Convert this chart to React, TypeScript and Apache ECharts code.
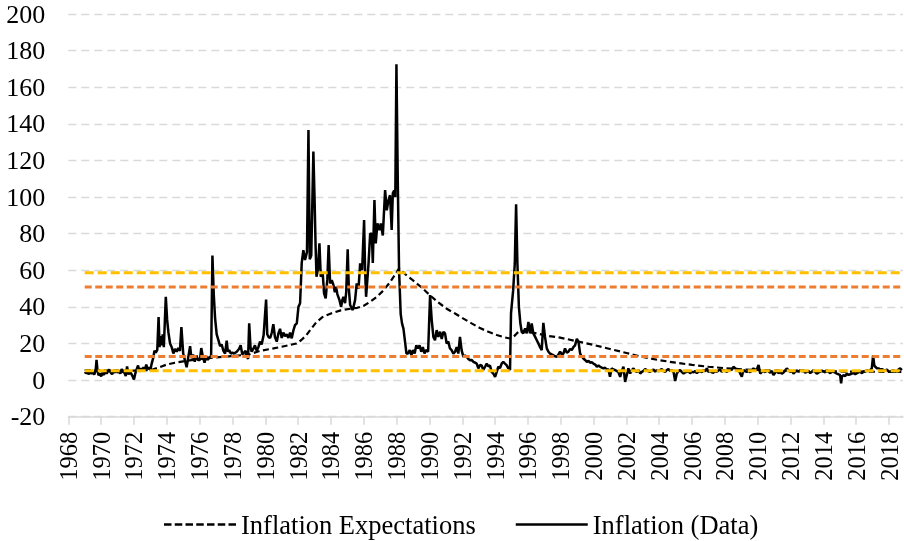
import React, { useEffect, useRef } from 'react';
import * as echarts from 'echarts';

// ---- tick labels ----
const yearTicks = [1968, 1970, 1972, 1974, 1976, 1978, 1980, 1982, 1984, 1986, 1988, 1990, 1992, 1994, 1996, 1998, 2000, 2002, 2004, 2006, 2008, 2010, 2012, 2014, 2016, 2018];

// ---- series names ----
const expName = 'Inflation Expectations';
const dataName = 'Inflation (Data)';

// ---- horizontal reference levels ----
const yellowLevels = [58.6, 5.1];
const orangeLevels = [50.8, 12.9];
const refStart = 1969.0;
const refEnd = 2018.85;

// ---- inflation (data), [year, %] ----
const inflation1969_1977: [number, number][] = [
  [1969.0, 4.5], [1969.08, 3.8], [1969.17, 4.2], [1969.25, 3.2], [1969.33, 4.6], [1969.42, 3.5], [1969.5, 4.4], [1969.58, 3.0], [1969.67, 5.5], [1969.72, 11], [1969.78, 5.0], [1969.85, 2.5], [1969.92, 3.8],
  [1970.0, 2.0], [1970.08, 4.0], [1970.17, 2.8], [1970.25, 5.5], [1970.33, 3.5], [1970.42, 4.8], [1970.5, 5.8], [1970.58, 4.2], [1970.67, 3.2], [1970.75, 5.0], [1970.83, 4.0], [1970.92, 5.5],
  [1971.0, 4.0], [1971.08, 5.2], [1971.17, 3.5], [1971.25, 6.0], [1971.33, 4.5], [1971.42, 4.0], [1971.5, 2.2], [1971.58, 7.5], [1971.67, 3.0], [1971.75, 5.0], [1971.83, 3.5], [1971.92, 2.0],
  [1972.0, 0.3], [1972.08, 3.5], [1972.17, 6.0], [1972.25, 8.0], [1972.33, 4.5], [1972.42, 6.5], [1972.5, 5.0], [1972.58, 7.0], [1972.67, 5.5], [1972.75, 8.5], [1972.83, 6.0], [1972.92, 7.0],
  [1973.0, 5.5], [1973.08, 9.0], [1973.17, 12.0], [1973.25, 16.0], [1973.33, 15.0], [1973.42, 16.5], [1973.5, 34.5], [1973.56, 18], [1973.62, 24], [1973.69, 19], [1973.75, 25], [1973.82, 18], [1973.94, 45.5],
  [1974.02, 33], [1974.1, 26], [1974.2, 20], [1974.3, 18], [1974.4, 14.5], [1974.5, 17], [1974.6, 15.5], [1974.7, 17.5], [1974.8, 16], [1974.89, 29],
  [1975.0, 14.5], [1975.1, 11], [1975.21, 7], [1975.3, 12], [1975.42, 18.5], [1975.5, 12], [1975.6, 14], [1975.7, 10], [1975.8, 13.5], [1975.9, 11],
  [1976.02, 11], [1976.1, 17.5], [1976.2, 12.5], [1976.3, 9.5], [1976.4, 13], [1976.5, 11], [1976.6, 12.5], [1976.7, 13], [1976.78, 68], [1976.86, 47], [1976.94, 34],
  [1977.04, 25], [1977.14, 22], [1977.25, 18.5], [1977.34, 19.5], [1977.45, 16], [1977.55, 14.5], [1977.65, 21.5], [1977.72, 15.5], [1977.8, 16.5], [1977.9, 14.5],
];

const inflation1978_1987: [number, number][] = [
  [1978.0, 15], [1978.1, 14.5], [1978.26, 15.5], [1978.4, 17], [1978.5, 19], [1978.6, 14], [1978.7, 15], [1978.8, 16], [1978.95, 11.5],
  [1979.02, 31], [1979.1, 18], [1979.17, 15.5], [1979.27, 17], [1979.37, 19], [1979.48, 16], [1979.58, 18], [1979.68, 21], [1979.78, 19.5], [1979.9, 24.6],
  [1980.05, 44], [1980.12, 25], [1980.2, 23.5], [1980.3, 23], [1980.4, 26], [1980.49, 30.5], [1980.59, 23.5], [1980.7, 21], [1980.8, 25.5], [1980.9, 28],
  [1981.0, 23], [1981.1, 26], [1981.2, 24], [1981.3, 25], [1981.41, 23], [1981.51, 26], [1981.61, 22.8], [1981.71, 27], [1981.81, 30], [1981.92, 31],
  [1982.02, 40], [1982.12, 42], [1982.22, 64], [1982.32, 71], [1982.42, 65.6], [1982.54, 70], [1982.63, 136.6], [1982.71, 66], [1982.8, 68], [1982.93, 124.8],
  [1983.0, 100], [1983.06, 75], [1983.12, 56.5], [1983.2, 60], [1983.3, 74.7], [1983.38, 56.5], [1983.5, 58.3], [1983.58, 47.4], [1983.68, 44.6], [1983.78, 55], [1983.86, 73.8], [1983.95, 52.8],
  [1984.05, 54.6], [1984.15, 52], [1984.24, 48], [1984.31, 51], [1984.39, 47], [1984.52, 43.7], [1984.62, 40], [1984.7, 44], [1984.76, 45.5], [1984.86, 42], [1984.93, 48],
  [1985.02, 71.4], [1985.09, 50], [1985.17, 41], [1985.25, 39.5], [1985.33, 38.3], [1985.47, 43.7], [1985.57, 52.8], [1985.68, 50], [1985.78, 63.8], [1985.9, 60],
  [1986.02, 87.4], [1986.08, 60], [1986.14, 45.5], [1986.22, 55], [1986.29, 63.8], [1986.39, 80], [1986.49, 80], [1986.55, 64], [1986.65, 98.4], [1986.73, 74.7], [1986.83, 85.6], [1986.96, 82],
  [1987.04, 85.6], [1987.16, 79], [1987.3, 103.8], [1987.4, 92.7], [1987.5, 98], [1987.6, 101], [1987.7, 82], [1987.77, 102], [1987.85, 103.6], [1987.92, 100],
];

const inflation1988_1997: [number, number][] = [
  [1987.99, 172.5], [1988.07, 110], [1988.15, 60], [1988.25, 36], [1988.33, 31], [1988.42, 28], [1988.5, 22], [1988.6, 14.5], [1988.7, 14.5], [1988.8, 16.4], [1988.9, 13.6],
  [1989.0, 16.4], [1989.1, 14.5], [1989.2, 19], [1989.3, 17.3], [1989.4, 19], [1989.5, 15.5], [1989.6, 18], [1989.7, 14.5], [1989.8, 16.4], [1989.92, 15.5],
  [1990.04, 46.4], [1990.14, 32.7], [1990.24, 23.6], [1990.34, 21.8], [1990.44, 27.3], [1990.54, 23.6], [1990.65, 26.4], [1990.75, 22.5], [1990.85, 26.4], [1990.95, 25.5],
  [1991.05, 20], [1991.15, 21], [1991.25, 17.3], [1991.35, 16.4], [1991.46, 14.5], [1991.56, 15.5], [1991.66, 18], [1991.76, 14.5], [1991.86, 23.6], [1991.96, 16.4],
  [1992.07, 12.7], [1992.17, 13.5], [1992.27, 12.7], [1992.37, 11.5], [1992.47, 10.9], [1992.57, 11], [1992.68, 10], [1992.78, 9.5], [1992.88, 9], [1992.98, 6.4],
  [1993.08, 8.2], [1993.18, 8], [1993.28, 5.5], [1993.39, 7.3], [1993.49, 9], [1993.59, 7.5], [1993.69, 8], [1993.79, 4.5], [1993.89, 3.6],
  [1994.0, 1.8], [1994.1, 4.5], [1994.2, 7.3], [1994.3, 6.5], [1994.4, 9], [1994.5, 10], [1994.6, 9], [1994.7, 8.2], [1994.81, 6.4], [1994.91, 5.5], [1994.97, 36.4],
  [1995.1, 49], [1995.2, 63.6], [1995.28, 96], [1995.36, 63.6], [1995.45, 40], [1995.54, 31], [1995.62, 26.4], [1995.72, 25.5], [1995.83, 28.2], [1995.93, 25.5],
  [1996.03, 31.8], [1996.13, 25.5], [1996.23, 31], [1996.33, 25.5], [1996.44, 23.6], [1996.54, 21.8], [1996.64, 20], [1996.74, 18], [1996.84, 16.4], [1996.94, 31.3],
  [1997.04, 23.6], [1997.15, 17.3], [1997.25, 15.5], [1997.35, 14.5], [1997.45, 14], [1997.55, 13.6], [1997.65, 13], [1997.76, 12.7], [1997.86, 14],
];

const inflation1998_2018: [number, number][] = [
  [1997.96, 15.5], [1998.06, 14], [1998.16, 14.5], [1998.26, 17.3], [1998.37, 15], [1998.47, 15.5], [1998.57, 17], [1998.67, 16.4], [1998.77, 18], [1998.87, 19], [1998.98, 22.5],
  [1999.08, 21], [1999.18, 14.5], [1999.28, 13], [1999.38, 11.8], [1999.48, 11], [1999.59, 10], [1999.69, 10.5], [1999.79, 9.5], [1999.89, 9.8], [1999.99, 9],
  [2000.1, 8.5], [2000.2, 7.3], [2000.3, 8], [2000.4, 7.3], [2000.5, 6.8], [2000.6, 6.4], [2000.7, 6.8], [2000.8, 5.5], [2000.9, 6],
  [2001.0, 1.8], [2001.1, 6.4], [2001.2, 5.8], [2001.3, 5.5], [2001.4, 5], [2001.5, 4.5], [2001.62, 1.8], [2001.72, 5], [2001.82, 7.3], [2001.92, -1],
  [2002.02, 2.7], [2002.12, 6.4], [2002.23, 3.6], [2002.33, 5.5], [2002.43, 6.4], [2002.53, 5], [2002.63, 4.5], [2002.74, 5.5], [2002.84, 3.6], [2002.94, 4.5],
  [2003.04, 5], [2003.14, 6], [2003.24, 5.5], [2003.34, 4.8], [2003.44, 4.5], [2003.54, 5.2], [2003.65, 5.8], [2003.75, 4.6], [2003.85, 5.5], [2003.95, 4.8],
  [2004.05, 5.5], [2004.15, 6], [2004.26, 5], [2004.36, 4.5], [2004.46, 5.5], [2004.56, 6], [2004.66, 5], [2004.77, 5.5], [2004.87, 4.5], [2004.97, -0.5],
  [2005.07, 3.6], [2005.17, 4.8], [2005.27, 5.5], [2005.37, 4.5], [2005.48, 3.6], [2005.58, 4.2], [2005.68, 4.5], [2005.78, 5], [2005.88, 3.8], [2005.99, 4.5],
  [2006.09, 4.2], [2006.19, 5], [2006.29, 3.8], [2006.39, 4.5], [2006.49, 5], [2006.6, 4.2], [2006.7, 5.5], [2006.8, 4.8], [2006.9, 6.4],
  [2007.0, 4.5], [2007.1, 5], [2007.2, 4.2], [2007.3, 4], [2007.4, 5], [2007.5, 4.5], [2007.61, 5.2], [2007.71, 5.8], [2007.81, 4.5], [2007.91, 5.5],
  [2008.01, 5], [2008.12, 4.5], [2008.22, 5.5], [2008.32, 6], [2008.42, 5.5], [2008.52, 7.3], [2008.62, 6.5], [2008.73, 5.5], [2008.83, 6], [2008.93, 3.6],
  [2009.03, 1.8], [2009.13, 5.5], [2009.24, 4.8], [2009.34, 4.5], [2009.44, 5], [2009.54, 4.2], [2009.64, 5.5], [2009.74, 6.4], [2009.84, 5.5], [2009.95, 6],
  [2010.05, 8.2], [2010.15, 3.6], [2010.25, 4.5], [2010.35, 5], [2010.45, 4.2], [2010.55, 5.5], [2010.65, 4.8], [2010.76, 4], [2010.86, 5], [2010.96, 2.7],
  [2011.06, 4], [2011.16, 5.5], [2011.26, 3.8], [2011.37, 4.5], [2011.47, 3.5], [2011.57, 4.2], [2011.67, 5.2], [2011.77, 6.4], [2011.87, 5.5], [2011.98, 4.5],
  [2012.08, 5], [2012.18, 3.6], [2012.28, 4.5], [2012.38, 5.2], [2012.49, 4.5], [2012.59, 5.5], [2012.69, 4.8], [2012.79, 5.5], [2012.89, 4], [2012.99, 4.5],
  [2013.1, 5], [2013.2, 3.8], [2013.3, 4.5], [2013.4, 5.5], [2013.5, 4.5], [2013.6, 3.5], [2013.71, 4.2], [2013.8, 4.5], [2013.91, 5.2],
  [2014.01, 4.8], [2014.11, 4.2], [2014.21, 5.5], [2014.31, 4.5], [2014.42, 3.8], [2014.52, 4.5], [2014.62, 4.5], [2014.72, 4], [2014.82, 3.5], [2014.92, 3.2],
  [2015.02, 2.7], [2015.08, -1.8], [2015.13, 2], [2015.23, 2.7], [2015.33, 2.2], [2015.43, 3.6], [2015.53, 2.8], [2015.64, 3.2], [2015.74, 3.5], [2015.84, 4], [2015.94, 3.2],
  [2016.04, 3.8], [2016.14, 4.2], [2016.24, 4.5], [2016.35, 3.8], [2016.45, 4.8], [2016.55, 4.5], [2016.65, 5.5], [2016.75, 4.8], [2016.85, 5.5], [2016.95, 6.4],
  [2017.03, 13.5], [2017.1, 8], [2017.16, 7.3], [2017.26, 6.5], [2017.36, 6.4], [2017.46, 5.8], [2017.56, 6], [2017.66, 5.5], [2017.77, 5.2], [2017.87, 5.8], [2017.97, 4.8],
  [2018.07, 4.5], [2018.17, 5], [2018.27, 5.5], [2018.37, 4.5], [2018.47, 4.8], [2018.57, 5.8], [2018.68, 6.4], [2018.78, 5.5],
];

// ---- inflation expectations, [year, %] ----
const expectations: [number, number][] = [
  [1969.0, 5.5], [1970.0, 5.3], [1971.0, 5.2], [1972.0, 5.2], [1973.0, 5.4], [1973.5, 6.8], [1974.0, 8.5], [1974.5, 9.5], [1975.0, 10.2], [1975.5, 10.9],
  [1976.0, 11.5], [1977.0, 12.4], [1978.0, 13.1], [1979.0, 14], [1979.7, 16], [1980.5, 17.3], [1981.0, 18.2], [1981.9, 20], [1982.2, 21.9], [1982.5, 24.5],
  [1982.75, 27.5], [1983.1, 31.5], [1983.5, 34.5], [1984.0, 36.4], [1984.6, 38.1], [1985.2, 39], [1985.6, 39.5], [1986.0, 40.6], [1986.4, 42.8], [1986.8, 45.5],
  [1987.2, 49], [1987.6, 53.5], [1987.9, 57.5], [1988.15, 61], [1988.6, 57.3], [1989.0, 54.5], [1989.5, 50.8], [1990.0, 46.6], [1990.5, 42.7], [1991.05, 39],
  [1991.56, 36.4], [1992.07, 33.6], [1992.57, 31], [1993.08, 28.4], [1993.59, 26.4], [1994.1, 24.6], [1994.6, 23.3], [1994.92, 22.7], [1995.12, 23.6], [1995.32, 25.5],
  [1995.52, 27], [1995.93, 26.4], [1996.54, 25.5], [1997.15, 24.2], [1997.96, 23.2], [1999.0, 21.2], [2000.0, 19.2], [2001.0, 17], [2002.0, 14.8], [2003.0, 12.6],
  [2004.0, 10.9], [2005.0, 9.5], [2006.0, 8.3], [2007.0, 7.3], [2008.0, 6.5], [2009.0, 5.9], [2010.0, 5.5], [2012.0, 5], [2014.0, 4.8], [2016.0, 4.6], [2018.75, 4.5],
];

const FONT = "'Liberation Serif', 'Times New Roman', serif";

// legend glyphs drawn as paths (a dashed bar and a solid bar)
function dashedIconPath(): string {
  let d = '';
  for (let i = 0; i < 7; i++) {
    const x0 = i * 10.75;
    d += `M${x0},0H${x0 + 7.5}V2.5H${x0}Z`;
  }
  return 'path://' + d;
}
const solidIconPath = 'path://M0,0H72V2.5H0Z';

function refSeries(level: number, color: string, dash: number[], idx: number) {
  return {
    name: 'ref' + idx,
    type: 'line',
    data: [[refStart, level], [refEnd, level]],
    symbol: 'none',
    showSymbol: false,
    silent: true,
    z: 5,
    lineStyle: { color, width: 3, type: dash },
  };
}

export default function App() {
  const ref = useRef<HTMLDivElement>(null);
  useEffect(() => {
    if (!ref.current) return;
    const chart = echarts.init(ref.current, null, { renderer: 'svg' });
    const inflation = [...inflation1969_1977, ...inflation1978_1987, ...inflation1988_1997, ...inflation1998_2018];
    chart.setOption({
      animation: false,
      textStyle: { fontFamily: FONT },
      grid: { left: 68.3, right: 1, top: 14, bottom: 124.3, outerBoundsMode: 'none' },
      legend: {
        data: [
          { name: expName, icon: dashedIconPath() },
          { name: dataName, icon: solidIconPath },
        ],
        left: 159,
        top: 506,
        itemWidth: 72,
        itemHeight: 2.5,
        itemGap: 40,
        itemStyle: { color: '#000', borderWidth: 0 },
        textStyle: { fontSize: 26.5, color: '#000', fontFamily: FONT },
      },
      xAxis: {
        type: 'value',
        min: 1968,
        max: refEnd,
        interval: 2,
        axisLine: { show: true, onZero: false, lineStyle: { color: '#d9d9d9', width: 1.5 } },
        axisTick: { show: true, length: 8, customValues: yearTicks, lineStyle: { color: '#d9d9d9', width: 1.5 } },
        axisLabel: {
          rotate: 90,
          fontSize: 24.5,
          color: '#000',
          fontFamily: FONT,
          margin: 15,
          customValues: yearTicks,
          formatter: (v: number) => String(v),
        },
        splitLine: { show: false },
      },
      yAxis: {
        type: 'value',
        min: -20,
        max: 200,
        interval: 20,
        axisLine: { show: false },
        axisTick: { show: false },
        axisLabel: { fontSize: 26, color: '#000', fontFamily: FONT, margin: 23 },
        splitLine: { show: true, lineStyle: { color: '#d9d9d9', width: 1.3, type: [8, 5] } },
      },
      series: [
        {
          name: dataName,
          type: 'line',
          data: inflation,
          symbol: 'none',
          showSymbol: false,
          z: 2,
          itemStyle: { color: '#000' },
          lineStyle: { color: '#000', width: 2.5 },
        },
        {
          name: expName,
          type: 'line',
          data: expectations,
          symbol: 'none',
          showSymbol: false,
          z: 3,
          itemStyle: { color: '#000' },
          lineStyle: { color: '#000', width: 2.2, type: [6, 3.5] },
        },
        refSeries(yellowLevels[0], '#FFC000', [9, 4], 0),
        refSeries(orangeLevels[0], '#ED7D31', [7, 3.5], 1),
        refSeries(orangeLevels[1], '#ED7D31', [7, 3.5], 2),
        refSeries(yellowLevels[1], '#FFC000', [9, 4], 3),
      ],
    });
    return () => chart.dispose();
  }, []);
  return <div ref={ref} style={{ position: 'fixed', left: 0, top: 0, width: 904, height: 541 }} />;
}
